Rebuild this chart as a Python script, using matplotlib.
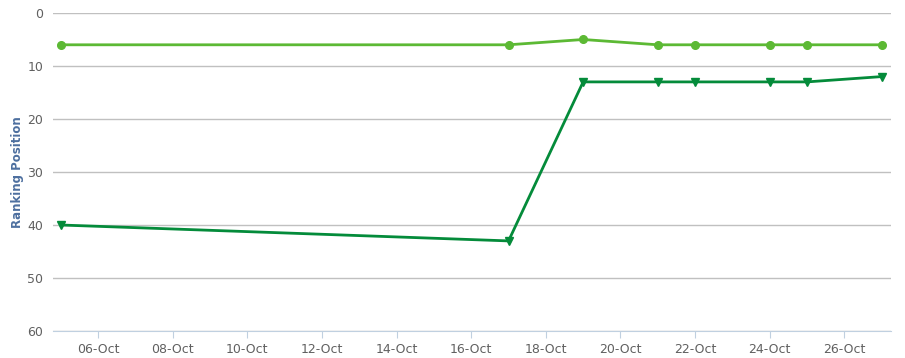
import matplotlib
matplotlib.use("Agg")
import matplotlib.pyplot as plt
import matplotlib.dates as mdates
from datetime import datetime

# data
dates = ["2023-10-05", "2023-10-17", "2023-10-19", "2023-10-21",
         "2023-10-22", "2023-10-24", "2023-10-25", "2023-10-27"]
rank_a = [6, 6, 5, 6, 6, 6, 6, 6]
rank_b = [40, 43, 13, 13, 13, 13, 13, 12]
yticks = [0, 10, 20, 30, 40, 50, 60]

x = [datetime.strptime(d, "%Y-%m-%d") for d in dates]

fig = plt.figure(figsize=(9.05, 3.58), dpi=100)
ax = fig.add_axes([0.0586, 0.0754, 0.9259, 0.8883])

ax.plot(x, rank_a, color="#5cb934", lw=2, marker="o", ms=5.5, zorder=3)
ax.plot(x, rank_b, color="#048b3a", lw=2, marker="v", ms=5.5, zorder=3)

ax.set_ylim(60, 0)
ax.set_yticks(yticks)
ax.set_xlim(datetime(2023, 10, 4, 19), datetime(2023, 10, 27, 6))
ax.xaxis.set_major_locator(mdates.DayLocator(bymonthday=range(6, 28, 2)))
ax.xaxis.set_major_formatter(mdates.DateFormatter("%d-%b"))

ax.grid(axis="y", color="#c0c0c0", lw=1)
for s in ["top", "right", "left"]:
    ax.spines[s].set_visible(False)
ax.spines["bottom"].set_color("#c0d0e0")
ax.tick_params(axis="y", length=0, pad=7, labelcolor="#606060", labelsize=9)
ax.tick_params(axis="x", length=5, color="#c0d0e0", labelcolor="#606060", labelsize=9)

ax.set_ylabel("Ranking Position", color="#4d6f9f", fontweight="bold", fontsize=8.5)
ax.yaxis.set_label_coords(-0.035, 0.5)

fig.savefig("out.png", dpi=100)
